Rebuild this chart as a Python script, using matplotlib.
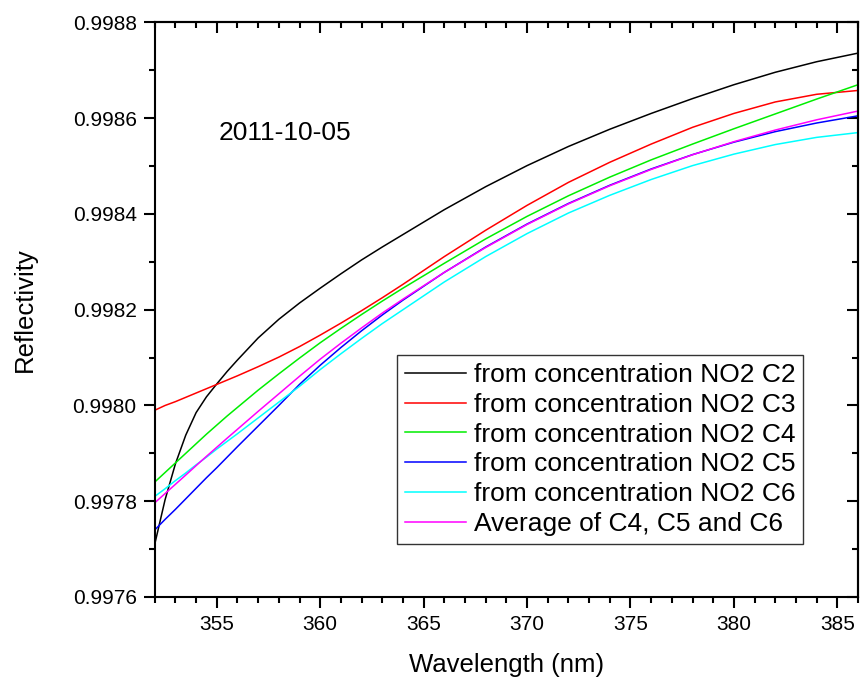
import numpy as np
import matplotlib
matplotlib.use("Agg")
from matplotlib import pyplot as plt
from matplotlib.ticker import MultipleLocator, FormatStrFormatter

plt.rcParams['font.family'] = ['Liberation Sans', 'DejaVu Sans']

# wavelength grid (nm)
wavelength = [352, 352.5, 353, 353.5, 354, 354.5, 355, 355.5, 356, 357, 358, 359,
              360, 361, 362, 363, 364, 366, 368, 370, 372, 374, 376, 378, 380,
              382, 384, 386]

refl_c2 = [0.99771, 0.997803, 0.997878, 0.997938, 0.997985, 0.998018, 0.998045, 0.998071,
           0.998095, 0.998141, 0.99818, 0.998214, 0.998245, 0.998275, 0.998304, 0.998331,
           0.998357, 0.998409, 0.998457, 0.998501, 0.998541, 0.998577, 0.99861, 0.998641,
           0.99867, 0.998696, 0.998718, 0.998736]
refl_c3 = [0.99799, 0.998, 0.998008, 0.998017, 0.998026, 0.998035, 0.998044, 0.998053,
           0.998062, 0.998081, 0.998101, 0.998123, 0.998147, 0.998172, 0.998198, 0.998225,
           0.998253, 0.998311, 0.998366, 0.998418, 0.998466, 0.998508, 0.998546, 0.998581,
           0.99861, 0.998634, 0.99865, 0.998658]
refl_c4 = [0.99784, 0.99786, 0.99788, 0.99790, 0.99792, 0.99794, 0.997959, 0.997978,
           0.997996, 0.998032, 0.998066, 0.998099, 0.998131, 0.998161, 0.99819, 0.998218,
           0.998245, 0.998297, 0.998348, 0.998395, 0.998438, 0.998477, 0.998513, 0.998546,
           0.998578, 0.998609, 0.99864, 0.99867]
refl_c5 = [0.99774, 0.997762, 0.997783, 0.997805, 0.997827, 0.997849, 0.99787, 0.997892,
           0.997914, 0.997957, 0.998, 0.998044, 0.998084, 0.998121, 0.998156, 0.998189,
           0.99822, 0.998278, 0.998331, 0.998379, 0.998422, 0.99846, 0.998494, 0.998524,
           0.99855, 0.998572, 0.99859, 0.998605]
refl_c6 = [0.99781, 0.997826, 0.997843, 0.997859, 0.997876, 0.997892, 0.997909, 0.997925,
           0.997941, 0.997974, 0.998007, 0.99804, 0.998075, 0.998108, 0.99814, 0.998171,
           0.9982, 0.998258, 0.998311, 0.998359, 0.998402, 0.998439, 0.998472, 0.998501,
           0.998525, 0.998545, 0.99856, 0.99857]
refl_avg = [0.9977967, 0.997816, 0.9978353, 0.9978547, 0.9978743, 0.9978937, 0.9979127,
            0.9979317, 0.9979503, 0.9979877, 0.9980243, 0.998061, 0.9980967, 0.998130,
            0.998162, 0.998193, 0.998222, 0.998278, 0.998330, 0.998378, 0.998421,
            0.998459, 0.998493, 0.9985237, 0.998551, 0.9985753, 0.9985967, 0.998615]

series_labels = ["from concentration NO2 C2", "from concentration NO2 C3",
                 "from concentration NO2 C4", "from concentration NO2 C5",
                 "from concentration NO2 C6", "Average of C4, C5 and C6"]
series_colors = ["#000000", "#ff0000", "#00ee00", "#0000ff", "#00ffff", "#ff00ff"]

fig = plt.figure(figsize=(8.6, 6.77), dpi=100)
ax = fig.add_axes([0.1799, 0.1182, 0.8178, 0.8486])

for ys, lab, col in zip([refl_c2, refl_c3, refl_c4, refl_c5, refl_c6, refl_avg],
                        series_labels, series_colors):
    ax.plot(wavelength, ys, color=col, lw=1.1, label=lab)

ax.set_xlim(352, 386)
ax.set_ylim(0.9976, 0.9988)
ax.xaxis.set_major_locator(MultipleLocator(5))
ax.xaxis.set_minor_locator(MultipleLocator(1))
ax.yaxis.set_major_locator(MultipleLocator(0.0002))
ax.yaxis.set_minor_locator(MultipleLocator(0.0001))
ax.yaxis.set_major_formatter(FormatStrFormatter('%.4f'))
ax.tick_params(which='both', direction='out', width=1.5, labelsize=15, pad=5)
ax.tick_params(which='major', length=8)
ax.tick_params(which='minor', length=4.5)
for sp in ax.spines.values():
    sp.set_linewidth(1.5)

# top/right axes with inward ticks, no labels
top = ax.secondary_xaxis('top')
top.xaxis.set_major_locator(MultipleLocator(5))
top.xaxis.set_minor_locator(MultipleLocator(1))
top.tick_params(which='both', direction='in', width=1.5, labeltop=False)
top.tick_params(which='major', length=8)
top.tick_params(which='minor', length=4.5)
top.spines['top'].set_linewidth(1.5)
right = ax.secondary_yaxis('right')
right.yaxis.set_major_locator(MultipleLocator(0.0002))
right.yaxis.set_minor_locator(MultipleLocator(0.0001))
right.tick_params(which='both', direction='in', width=1.5, labelright=False)
right.tick_params(which='major', length=8)
right.tick_params(which='minor', length=4.5)
right.spines['right'].set_linewidth(1.5)

ax.set_xlabel("Wavelength (nm)", fontsize=18.5, labelpad=14)
ax.set_ylabel("Reflectivity", fontsize=18.5, labelpad=26)

ax.text(355.1, 0.99857, "2011-10-05", fontsize=19, ha='left', va='center')

leg = ax.legend(loc='upper left', bbox_to_anchor=(0.3445, 0.421), borderaxespad=0,
                fontsize=19, frameon=True, fancybox=False, edgecolor='black',
                handlelength=2.3, handletextpad=0.3, labelspacing=0.22,
                borderpad=0.3)
leg.get_frame().set_linewidth(1.0)

fig.savefig("out.png", dpi=100)
